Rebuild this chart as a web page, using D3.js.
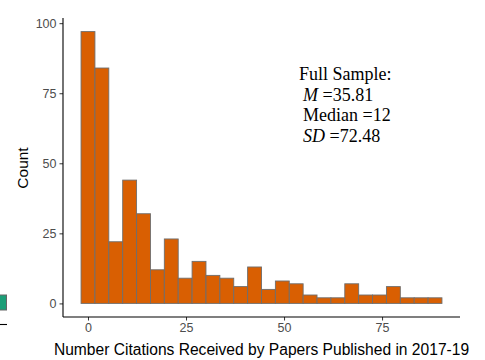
<!DOCTYPE html>
<html>
<head>
<meta charset="utf-8">
<script src="https://cdn.jsdelivr.net/npm/d3@7"></script>
<style>
  html, body { margin: 0; padding: 0; background: #fff; }
  svg { display: block; }
</style>
</head>
<body>
<svg id="chart" width="485" height="360"></svg>
<script>
// Histogram of citations per paper (bin centres and counts)
const binWidth = 3.54;
const binCenters = [0, 3.54, 7.08, 10.62, 14.16, 17.7, 21.24, 24.78, 28.32, 31.86,
  35.4, 38.94, 42.48, 46.02, 49.56, 53.1, 56.64, 60.18, 63.72, 67.26,
  70.8, 74.34, 77.88, 81.42, 84.96, 88.5];
const counts = [97, 84, 22, 44, 32, 12, 23, 9, 15, 10,
  9, 6, 13, 5, 8, 7, 3, 2, 2, 7,
  3, 3, 6, 2, 2, 2];
const xTicks = [0, 25, 50, 75];
const yTicks = [0, 25, 50, 75, 100];
const statsLines = [
  { italic: "", text: "Full Sample:" },
  { italic: "M", text: " =35.81" },
  { italic: "", text: "Median =12" },
  { italic: "SD", text: " =72.48" }
];

const svg = d3.select("#chart");
const panel = { left: 63, right: 460, top: 18, bottom: 317 };

const xMin = binCenters[0] - binWidth / 2;
const xMax = binCenters[binCenters.length - 1] + binWidth / 2;
const xPad = (xMax - xMin) * 0.05;
const x = d3.scaleLinear()
  .domain([xMin - xPad, xMax + xPad])
  .range([panel.left, panel.right]);

const yMax = d3.max(counts);
const yPad = yMax * 0.05;
const y = d3.scaleLinear()
  .domain([-yPad, yMax + yPad])
  .range([panel.bottom, panel.top]);

// fragment of the neighbouring panel at the far left
svg.append("rect")
  .attr("x", -2).attr("y", 295).attr("width", 8.5).attr("height", 15)
  .attr("fill", "#1B9E77").attr("stroke", "#666").attr("stroke-width", 1);
svg.append("line")
  .attr("x1", 0).attr("x2", 7).attr("y1", 324.5).attr("y2", 324.5)
  .attr("stroke", "#000").attr("stroke-width", 1.1);

// bars
svg.append("g").selectAll("rect")
  .data(counts)
  .join("rect")
  .attr("x", (d, i) => x(binCenters[i] - binWidth / 2))
  .attr("width", (d, i) => x(binCenters[i] + binWidth / 2) - x(binCenters[i] - binWidth / 2))
  .attr("y", d => y(d))
  .attr("height", d => y(0) - y(d))
  .attr("fill", "#D95F02")
  .attr("stroke", "#6E6E6E")
  .attr("stroke-width", 0.9);

// axes
const xAxis = d3.axisBottom(x).tickValues(xTicks).tickSize(3.5).tickPadding(3).tickSizeOuter(0);
const yAxis = d3.axisLeft(y).tickValues(yTicks).tickSize(3.5).tickPadding(3).tickSizeOuter(0);

const gx = svg.append("g").attr("transform", `translate(0,${panel.bottom})`).call(xAxis);
const gy = svg.append("g").attr("transform", `translate(${panel.left},0)`).call(yAxis);

[gx, gy].forEach(g => {
  g.select(".domain").remove();
  g.selectAll(".tick line").attr("stroke", "#333").attr("stroke-width", 1);
  g.selectAll(".tick text")
    .attr("fill", "#4D4D4D")
    .style("font-family", "'Liberation Sans', Arial, sans-serif")
    .style("font-size", "12.5px");
});

// axis lines
svg.append("line")
  .attr("x1", panel.left).attr("x2", panel.right)
  .attr("y1", panel.bottom).attr("y2", panel.bottom)
  .attr("stroke", "#000").attr("stroke-width", 1.1);
svg.append("line")
  .attr("x1", panel.left).attr("x2", panel.left)
  .attr("y1", panel.top).attr("y2", panel.bottom)
  .attr("stroke", "#000").attr("stroke-width", 1.1);

// axis titles
svg.append("text")
  .attr("x", (panel.left + panel.right) / 2)
  .attr("y", 355)
  .attr("text-anchor", "middle")
  .style("font-family", "'Liberation Sans', Arial, sans-serif")
  .style("font-size", "15.6px")
  .attr("fill", "#000")
  .text("Number Citations Received by Papers Published in 2017-19");

svg.append("text")
  .attr("transform", "translate(28,168) rotate(-90)")
  .attr("text-anchor", "middle")
  .style("font-family", "'Liberation Sans', Arial, sans-serif")
  .style("font-size", "15.5px")
  .attr("fill", "#000")
  .text("Count");

// summary statistics, one text element per line
const statX = [299, 303, 303, 303];
const statY = [79.5, 100.5, 121, 141.5];
statsLines.forEach((ln, i) => {
  const t = svg.append("text")
    .attr("x", statX[i]).attr("y", statY[i])
    .style("font-family", "'Liberation Serif', 'Times New Roman', serif")
    .style("font-size", "18px")
    .attr("fill", "#000");
  if (ln.italic) t.append("tspan").style("font-style", "italic").text(ln.italic);
  t.append("tspan").text(ln.text);
});
</script>
</body>
</html>
